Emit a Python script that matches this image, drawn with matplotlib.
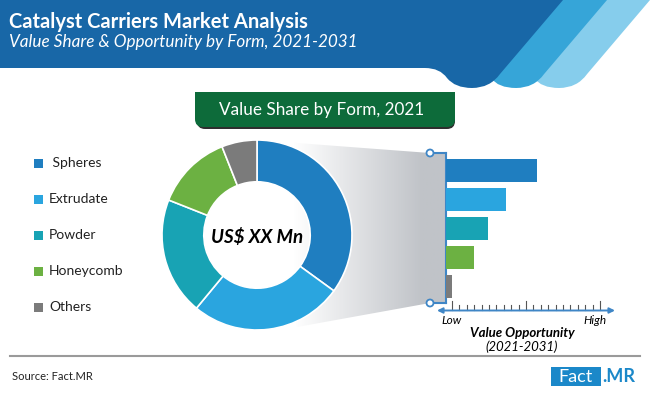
import numpy as np
import matplotlib
matplotlib.use("Agg")
import matplotlib.pyplot as plt
from matplotlib.patches import Rectangle, FancyBboxPatch, Circle, PathPatch, Polygon
from matplotlib.path import Path
from matplotlib.colors import LinearSegmentedColormap

plt.rcParams["font.family"] = ["Lato", "DejaVu Sans"]

# -------- data --------
forms = ["Spheres", "Extrudate", "Powder", "Honeycomb", "Others"]
share_2021 = [35, 26, 20, 13, 6]          # value share %, read from donut
opportunity = [59, 39, 27, 18, 4]          # value opportunity index (0-100 scale)
colors = ["#1f7ec0", "#2aa5df", "#18a3b4", "#6cb142", "#7b7b7b"]

title = "Catalyst Carriers Market Analysis"
subtitle = "Value Share & Opportunity by Form, 2021-2031"
box_title = "Value Share by Form, 2021"
center_label = "US$ XX Mn"

W, H = 650, 393
fig = plt.figure(figsize=(W / 100, H / 100), dpi=100)
ax = fig.add_axes([0, 0, 1, 1])
ax.set_xlim(0, W)
ax.set_ylim(H, 0)
ax.axis("off")

# -------- header banner --------
def stripe(xr, w, col, z):
    s = 0.85
    verts = [(xr - w, 0), (xr, 0), (xr - s * 74, 74),
             (xr - s * 74 - 10, 88), (xr - s * 74 - 28, 88),
             (xr - s * 74 - 46, 88), (xr - s * 74 - 53, 78),
             (xr - w, 0)]
    codes = [Path.MOVETO, Path.LINETO, Path.LINETO,
             Path.CURVE3, Path.CURVE3, Path.CURVE3, Path.CURVE3, Path.CLOSEPOLY]
    ax.add_patch(PathPatch(Path(verts, codes), fc=col, ec="none", zorder=z))

stripe(650, 60, "#86cdec", 1)
stripe(607, 60, "#36a5d8", 2)

dark = [(0, 0), (563, 0), (500, 74),
        (490, 88), (472, 88),
        (455, 88), (447, 78),
        (440, 68), (425, 68),
        (0, 68), (0, 0)]
dcodes = [Path.MOVETO, Path.LINETO, Path.LINETO,
          Path.CURVE3, Path.CURVE3, Path.CURVE3, Path.CURVE3,
          Path.CURVE3, Path.CURVE3, Path.LINETO, Path.CLOSEPOLY]
ax.add_patch(PathPatch(Path(dark, dcodes), fc="#1867a7", ec="none", zorder=3))

ax.text(9, 22, title, color="white", fontsize=14.5, fontweight="bold",
        va="center", ha="left", zorder=5)
ax.text(9, 42, subtitle, color="white", fontsize=12.3, style="italic",
        va="center", ha="left", zorder=5)

# -------- green title box --------
shadow = FancyBboxPatch((197, 95), 258, 34, boxstyle="round,pad=0,rounding_size=8",
                        fc="#2e2e2e", ec="none", zorder=4)
ax.add_patch(shadow)
ax.add_patch(FancyBboxPatch((195, 92), 260, 35, boxstyle="round,pad=0,rounding_size=8",
                            fc="#0d6b3a", ec="none", zorder=5))
ax.add_patch(Rectangle((195, 92), 260, 15, fc="#0d6b3a", ec="none", zorder=5))
ax.text(322, 110, box_title, color="white", fontsize=12.3, ha="center", va="center", zorder=6)

# -------- gradient funnel + bracket --------
cmap = LinearSegmentedColormap.from_list(
    "fade", [(0, "#ffffff"), (0.22, "#ffffff"), (0.88, "#c0c3c8"), (1, "#c0c3c8")], N=256)
grad = np.tile(np.linspace(0, 1, 200), (10, 1))
img = ax.imshow(grad, extent=(250, 446, 335, 135), cmap=cmap, aspect="auto",
                interpolation="bilinear", zorder=1)
funnel = Polygon([(257, 140), (430, 153), (446, 153), (446, 303), (430, 303), (297, 327)],
                 closed=True, fc="none", ec="none", transform=ax.transData)
ax.add_patch(funnel)
img.set_clip_path(funnel)

blue = "#3f86c6"
ax.plot([446, 446], [153, 303], color=blue, lw=1.5, zorder=4)
ax.plot([430, 446], [153, 153], color=blue, lw=1.5, zorder=4)
ax.plot([430, 446], [303, 303], color=blue, lw=1.5, zorder=4)
for cy in (153, 303):
    ax.add_patch(Circle((430, cy), 3.5, fc="white", ec=blue, lw=1.3, zorder=5))

# -------- donut --------
pax = fig.add_axes([162 / W, 1 - 330 / H, 190 / W, 190 / H])
pax.pie(share_2021, colors=colors, startangle=90, counterclock=False,
        wedgeprops=dict(width=0.44, edgecolor="white", linewidth=1.2))
pax.set_aspect("equal")
pax.set_xlim(-1, 1)
pax.set_ylim(-1, 1)
pax.axis("off")
pax.text(0, -0.02, center_label, ha="center", va="center", fontsize=13.5,
         fontweight="bold", style="italic", color="black")

# -------- opportunity bars --------
px_per_unit = 1.54
bax = fig.add_axes([446 / W, 1 - 301 / H, 169 / W, 145 / H])
bax.barh(range(len(forms)), opportunity, height=0.79, color=colors, left=0)
bax.set_xlim(0, 169 / px_per_unit)
bax.set_ylim(4.5, -0.5)
bax.axis("off")

# value axis with ticks and double arrow
ax.annotate("", xy=(615, 310.5), xytext=(437, 310.5),
            arrowprops=dict(arrowstyle="<|-|>", color=blue, lw=1.4,
                            mutation_scale=8, shrinkA=0, shrinkB=0), zorder=4)
tick_x = np.linspace(452, 600, 21)
for i, tx in enumerate(tick_x):
    top = 301 if i % 10 == 0 else 305
    ax.plot([tx, tx], [top, 310], color="#555555", lw=0.8, zorder=3)
ax.text(452, 321, "Low", fontsize=8.5, style="italic", ha="center", va="center")
ax.text(595, 321, "High", fontsize=8.5, style="italic", ha="center", va="center")
ax.text(522, 333, "Value Opportunity", fontsize=9.5, fontweight="bold", style="italic",
        ha="center", va="center")
ax.text(522, 347, "(2021-2031)", fontsize=9.5, style="italic", ha="center", va="center")

# -------- legend --------
for i, (name, col) in enumerate(zip(forms, colors)):
    ly = 163 + i * 36
    ax.add_patch(Rectangle((34, ly - 4.5), 9, 9, fc=col, ec="none"))
    label = " " + name if i == 0 else name
    ax.text(49, ly, label, fontsize=10, ha="left", va="center", color="#222222")

# -------- footer --------
ax.plot([10, 640], [356, 356], color="#9a9a9a", lw=1.5)
ax.text(12, 377, "Source: Fact.MR", fontsize=8, ha="left", va="center", color="#222222")
ax.add_patch(Rectangle((551, 367), 50, 19, fc="#1b88c9", ec="none"))
ax.text(576, 376.5, "Fact", fontsize=13, color="white", ha="center", va="center")
ax.text(602, 376.5, ".MR", fontsize=13, color="#1b88c9", fontweight="bold",
        ha="left", va="center")

fig.savefig("out.png", dpi=100)
